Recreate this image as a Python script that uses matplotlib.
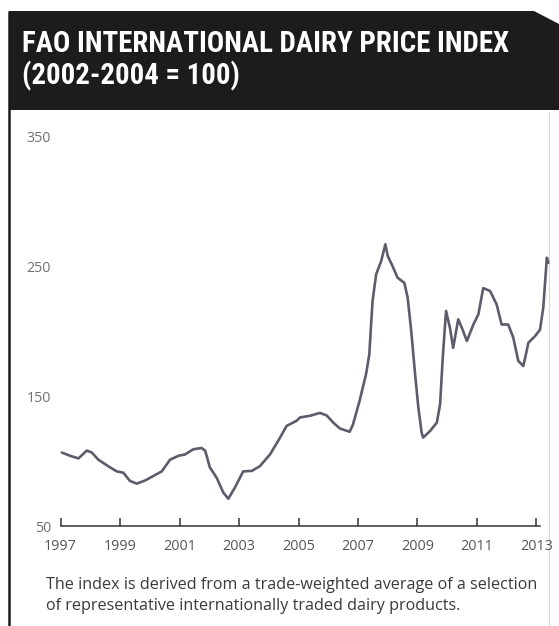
import matplotlib
matplotlib.use("Agg")
import matplotlib.pyplot as plt
from matplotlib import font_manager
from matplotlib.patches import Polygon

# FAO dairy price index, decimal year vs index value (2002-2004 = 100)
dates = [
    1997.04, 1997.32, 1997.60, 1997.88, 1998.05, 1998.27, 1998.60, 1998.89,
    1999.11, 1999.33, 1999.56, 1999.84, 2000.12, 2000.40, 2000.68, 2000.96,
    2001.18, 2001.46, 2001.74, 2001.86, 2002.02, 2002.25, 2002.47, 2002.64,
    2002.86, 2003.14, 2003.43, 2003.70, 2004.04, 2004.38, 2004.60, 2004.94,
    2005.05, 2005.39, 2005.72, 2005.95, 2006.17, 2006.39, 2006.72, 2006.83,
    2007.05, 2007.27, 2007.38, 2007.44, 2007.49, 2007.61, 2007.78, 2007.92,
    2008.00, 2008.16, 2008.33, 2008.56, 2008.67, 2008.79, 2008.92, 2009.03,
    2009.14, 2009.19, 2009.42, 2009.65, 2009.76, 2009.85, 2009.96, 2010.09,
    2010.20, 2010.37, 2010.49, 2010.66, 2010.88, 2011.05, 2011.21, 2011.44,
    2011.66, 2011.83, 2012.05, 2012.22, 2012.39, 2012.56, 2012.73, 2012.95,
    2013.12, 2013.23, 2013.35, 2013.40,
]
index_values = [
    106.5, 104.0, 102.0, 108.0, 106.5, 101.0, 96.0, 92.0,
    91.0, 84.7, 82.6, 85.0, 88.5, 92.0, 101.0, 104.0,
    105.0, 109.0, 110.0, 108.0, 95.0, 87.0, 75.7, 71.0,
    79.5, 92.0, 92.4, 96.0, 105.0, 118.0, 127.0, 131.0,
    133.5, 134.8, 137.0, 135.0, 129.5, 125.0, 122.5, 128.0,
    146.0, 166.7, 182.0, 205.0, 223.0, 243.6, 253.8, 266.7,
    257.7, 250.0, 241.0, 237.0, 225.6, 200.0, 166.7, 141.0,
    121.8, 118.0, 123.0, 129.5, 143.6, 179.5, 215.4, 202.6,
    187.0, 209.0, 202.6, 192.3, 205.0, 213.0, 233.0, 230.8,
    220.5, 205.0, 205.0, 195.0, 177.0, 173.0, 191.0, 196.0,
    201.0, 218.0, 256.4, 252.5,
]

x_ticks = [1997, 1999, 2001, 2003, 2005, 2007, 2009, 2011, 2013]
y_ticks = [50, 150, 250, 350]

title_lines = ["FAO INTERNATIONAL DAIRY PRICE INDEX", "(2002-2004 = 100)"]
footnote_lines = [
    "The index is derived from a trade-weighted average of a selection",
    "of representative internationally traded dairy products.",
]

W, H = 559, 626
fig = plt.figure(figsize=(W / 100, H / 100), dpi=100)
fig.patch.set_facecolor("white")

available = {f.name for f in font_manager.fontManager.ttflist}
title_family = next((f for f in ("Roboto Condensed", "Liberation Sans Narrow", "Lato", "Roboto")
                     if f in available), "DejaVu Sans")
body_family = "Open Sans" if "Open Sans" in available else "DejaVu Sans"

# Pixel-space overlay for the frame and header band
frame = fig.add_axes([0, 0, 1, 1], zorder=0)
frame.set_xlim(0, W)
frame.set_ylim(H, 0)
frame.axis("off")

frame.add_patch(Polygon([(9, 11), (534, 11), (559, 24), (559, 110), (9, 110)],
                        closed=True, facecolor="#1c1c1e", edgecolor="none"))
frame.plot([9, 9], [11, H], color="#1a1a1a", lw=1.8, solid_capstyle="butt")
frame.plot([549, 549], [112, H], color="#d8d8d8", lw=0.8)

t1 = frame.text(22, 52, title_lines[0], color="white", fontweight="bold",
                family=title_family, fontsize=20, ha="left", va="baseline")
t2 = frame.text(22, 84, title_lines[1], color="white", fontweight="bold",
                family=title_family, fontsize=20, ha="left", va="baseline")

# Size the header so the first line spans its band width
fig.canvas.draw()
renderer = fig.canvas.get_renderer()
w = t1.get_window_extent(renderer).width
fs = 20 * 488.0 / w
t1.set_fontsize(fs)
t2.set_fontsize(fs)

for i, line in enumerate(footnote_lines):
    frame.text(46, 585 + i * 21, line, color="#3a3a3a", family=body_family,
               fontsize=11.6, ha="left", va="center")

# Chart area: 1997 at x=60.6 px, 29.74 px per year; 50 at y=526 px, 1.3 px per unit
x0_px, px_per_year = 60.6, 29.74
y0_px, px_per_unit = 526.0, 1.30
xmin, xmax = 1997.0, 2013.5
ymin, ymax = 50.0, 350.0
left = x0_px / W
width = (xmax - xmin) * px_per_year / W
bottom = 1 - y0_px / H
height = (ymax - ymin) * px_per_unit / H

ax = fig.add_axes([left, bottom, width, height], zorder=1)
ax.patch.set_alpha(0)
ax.set_xlim(xmin, xmax)
ax.set_ylim(ymin, ymax)

ax.plot(dates, index_values, color="#5c5c6c", lw=1.9, solid_joinstyle="round",
        solid_capstyle="round", clip_on=False)

for side in ("top", "right", "left"):
    ax.spines[side].set_visible(False)
ax.spines["bottom"].set_color("#333333")
ax.spines["bottom"].set_linewidth(1.1)
ax.spines["bottom"].set_bounds(1997, 2013.12)

ax.set_xticks(x_ticks)
ax.set_xticklabels([str(y) for y in x_ticks])
ax.set_yticks(y_ticks)
ax.set_yticklabels([str(v) for v in y_ticks])
ax.tick_params(axis="x", direction="in", length=6, width=1.1, color="#333333",
               pad=9, labelsize=10.4, labelcolor="#555555")
ax.tick_params(axis="y", length=0, pad=7, labelsize=10.2, labelcolor="#707070")
for lab in ax.get_xticklabels() + ax.get_yticklabels():
    lab.set_family(body_family)

fig.savefig("out.png", dpi=100, facecolor="white")
